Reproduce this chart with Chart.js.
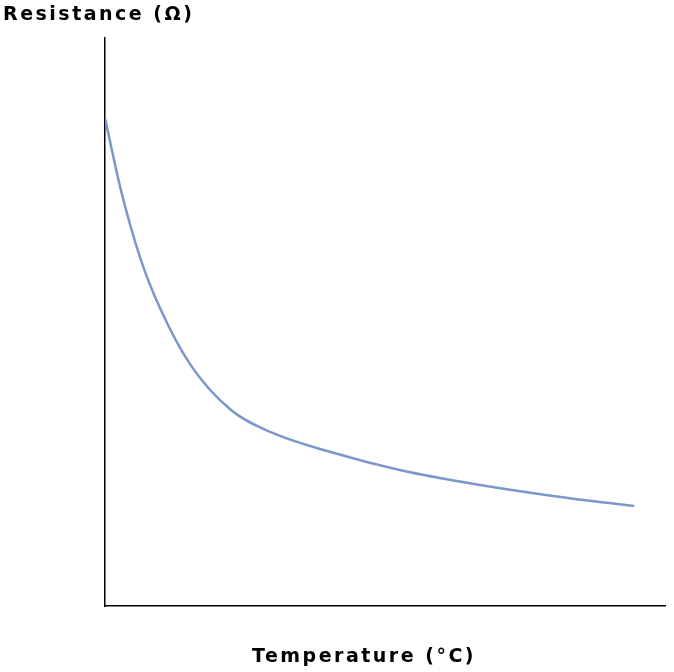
<!DOCTYPE html>
<html>
<head>
<meta charset="utf-8">
<script src="https://cdn.jsdelivr.net/npm/chart.js@4"></script>
<style>
  html, body { margin: 0; padding: 0; background: #fff; }
  #wrap { width: 674px; height: 672px; }
</style>
</head>
<body>
<div id="wrap"><canvas id="chart"></canvas></div>
<script>
const temperature = [0, 2.85, 6.42, 9.98, 15.3, 22.5, 29.6, 40.3, 52.8, 67.0, 81.3, 94.5];
const resistance = [85.9, 73.2, 60.9, 52.1, 42.4, 34.5, 30.6, 27.1, 23.9, 21.3, 19.2, 17.6];
const yTitle = 'Resistance (Ω)';
const xTitle = 'Temperature (°C)';

const labelsPlugin = {
    id: 'labels',
    afterDraw(chart) {
        const ctx = chart.ctx;
        ctx.save();
        ctx.fillStyle = '#000';
        ctx.font = 'bold 19px "DejaVu Sans"';
        ctx.letterSpacing = '2.5px';
        ctx.textBaseline = 'middle';
        ctx.textAlign = 'left';
        ctx.fillText(yTitle, 3, 15);
        ctx.textAlign = 'center';
        ctx.fillText(xTitle, 364, 657);
        ctx.restore();
    }
};

new Chart(document.getElementById('chart'), {
    type: 'line',
    data: {
        datasets: [{
            data: temperature.map((t, i) => ({ x: t, y: resistance[i] })),
            borderColor: '#7b97cb',
            borderWidth: 2.5,
            pointRadius: 0,
            cubicInterpolationMode: 'monotone',
            fill: false
        }]
    },
    options: {
        responsive: true,
        maintainAspectRatio: false,
        animation: false,
        layout: { padding: { left: 97, top: 38, right: 9, bottom: 58 } },
        plugins: { legend: { display: false }, tooltip: { enabled: false } },
        scales: {
            x: {
                type: 'linear', min: 0, max: 100,
                ticks: { display: false },
                grid: { display: false },
                border: { color: '#000', width: 1.5 }
            },
            y: {
                min: 0, max: 100,
                ticks: { display: false },
                grid: { display: false },
                border: { color: '#000', width: 1.5 }
            }
        }
    },
    plugins: [labelsPlugin]
});
</script>
</body>
</html>
